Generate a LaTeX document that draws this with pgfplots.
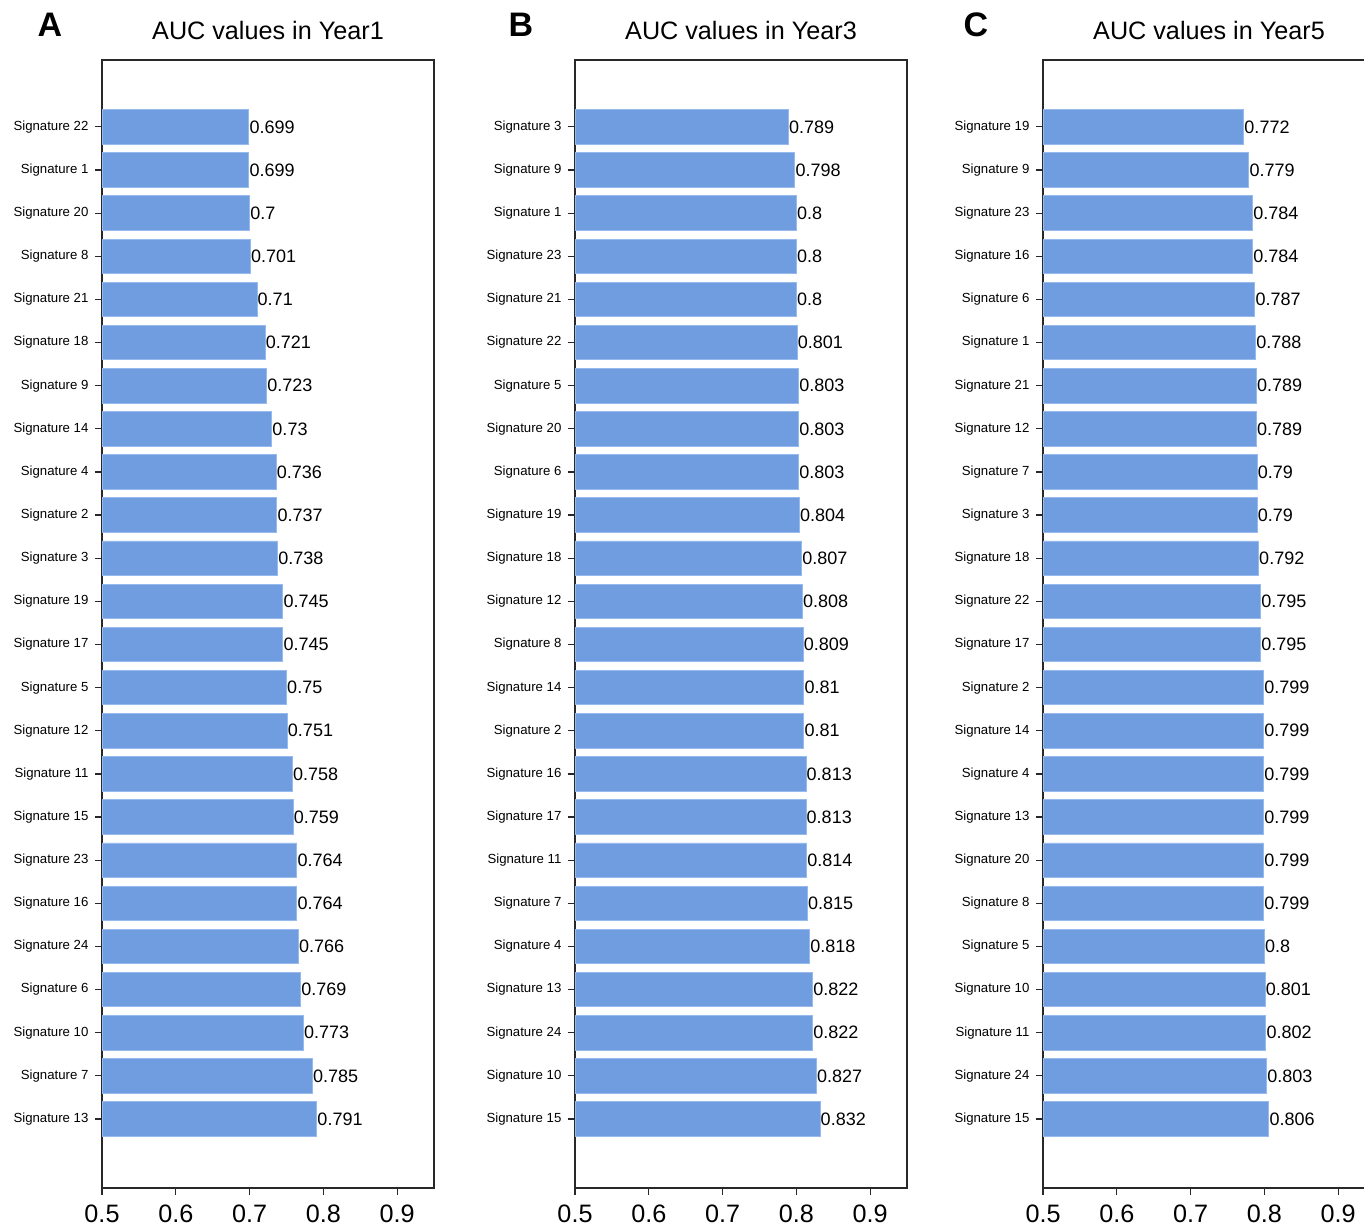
\documentclass[border=0pt]{standalone}
\usepackage{fontspec}
\setmainfont{Liberation Sans}
\usepackage{pgfplots}
\usepackage{pgfplotstable}
\pgfplotsset{compat=1.18}

\definecolor{barblue}{RGB}{112,156,224}
\definecolor{baredge}{RGB}{150,185,238}
\definecolor{axisgray}{RGB}{40,40,40}

% AUC per signature, sorted ascending, one table per follow-up year
\pgfplotstableread[col sep=comma]{
idx,name,auc
0,Signature 22,0.699
1,Signature 1,0.699
2,Signature 20,0.7
3,Signature 8,0.701
4,Signature 21,0.71
5,Signature 18,0.721
6,Signature 9,0.723
7,Signature 14,0.73
8,Signature 4,0.736
9,Signature 2,0.737
10,Signature 3,0.738
11,Signature 19,0.745
12,Signature 17,0.745
13,Signature 5,0.75
14,Signature 12,0.751
15,Signature 11,0.758
16,Signature 15,0.759
17,Signature 23,0.764
18,Signature 16,0.764
19,Signature 24,0.766
20,Signature 6,0.769
21,Signature 10,0.773
22,Signature 7,0.785
23,Signature 13,0.791
}\yearone

\pgfplotstableread[col sep=comma]{
idx,name,auc
0,Signature 3,0.789
1,Signature 9,0.798
2,Signature 1,0.8
3,Signature 23,0.8
4,Signature 21,0.8
5,Signature 22,0.801
6,Signature 5,0.803
7,Signature 20,0.803
8,Signature 6,0.803
9,Signature 19,0.804
10,Signature 18,0.807
11,Signature 12,0.808
12,Signature 8,0.809
13,Signature 14,0.81
14,Signature 2,0.81
15,Signature 16,0.813
16,Signature 17,0.813
17,Signature 11,0.814
18,Signature 7,0.815
19,Signature 4,0.818
20,Signature 13,0.822
21,Signature 24,0.822
22,Signature 10,0.827
23,Signature 15,0.832
}\yearthree

\pgfplotstableread[col sep=comma]{
idx,name,auc
0,Signature 19,0.772
1,Signature 9,0.779
2,Signature 23,0.784
3,Signature 16,0.784
4,Signature 6,0.787
5,Signature 1,0.788
6,Signature 21,0.789
7,Signature 12,0.789
8,Signature 7,0.79
9,Signature 3,0.79
10,Signature 18,0.792
11,Signature 22,0.795
12,Signature 17,0.795
13,Signature 2,0.799
14,Signature 14,0.799
15,Signature 4,0.799
16,Signature 13,0.799
17,Signature 20,0.799
18,Signature 8,0.799
19,Signature 5,0.8
20,Signature 10,0.801
21,Signature 11,0.802
22,Signature 24,0.803
23,Signature 15,0.806
}\yearfive

\pgfplotsset{
  aucpanel/.style={
    scale only axis, width=166pt, height=564pt,
    anchor=south west,
    xbar, bar width=0.8,
    xmin=0.5, xmax=0.95,
    ymin=-1.55, ymax=24.6, y dir=reverse,
    xtick={0.5,0.6,0.7,0.8,0.9},
    ytick={0,...,23},
    xtick pos=lower, ytick pos=left,
    tick align=outside, major tick length=3.6pt,
    axis line style={line width=0.75pt, axisgray},
    tick style={line width=0.6pt, axisgray},
    /pgf/number format/assume math mode=true,
    xticklabel={\pgfmathprintnumber[fixed,precision=1,fixed zerofill]{\tick}},
    xticklabel style={font=\fontsize{12.6}{14}\selectfont, inner ysep=4.5pt},
    yticklabel style={font=\fontsize{6.6}{7.5}\selectfont, inner xsep=3pt},
    title style={font=\fontsize{12.6}{14}\selectfont, at={(0.5,1)}, anchor=base, yshift=4pt},
    point meta=x,
    nodes near coords={\pgfmathprintnumber[fixed,precision=3]{\pgfplotspointmeta}},
    nodes near coords style={font=\fontsize{9}{10}\selectfont, anchor=west, inner xsep=0.2pt, text=black},
  },
  aucbars/.style={fill=barblue, draw=baredge, line width=0.4pt},
}

\begin{document}
\begin{tikzpicture}
\path[use as bounding box] (0,0) rectangle (682pt,614.5pt);

\begin{axis}[aucpanel, at={(51pt,20.5pt)}, title={AUC values in Year1},
  yticklabels from table={\yearone}{name}]
  \addplot[aucbars] table[x=auc, y=idx] {\yearone};
\end{axis}

\begin{axis}[aucpanel, at={(287.5pt,20.5pt)}, title={AUC values in Year3},
  yticklabels from table={\yearthree}{name}]
  \addplot[aucbars] table[x=auc, y=idx] {\yearthree};
\end{axis}

\begin{axis}[aucpanel, at={(521.5pt,20.5pt)}, title={AUC values in Year5},
  yticklabels from table={\yearfive}{name}]
  \addplot[aucbars] table[x=auc, y=idx] {\yearfive};
\end{axis}

\node[anchor=base, font=\bfseries\fontsize{17}{18}\selectfont] at (25pt,596pt) {A};
\node[anchor=base, font=\bfseries\fontsize{17}{18}\selectfont] at (260.5pt,596pt) {B};
\node[anchor=base, font=\bfseries\fontsize{17}{18}\selectfont] at (488pt,596pt) {C};
\end{tikzpicture}
\end{document}
